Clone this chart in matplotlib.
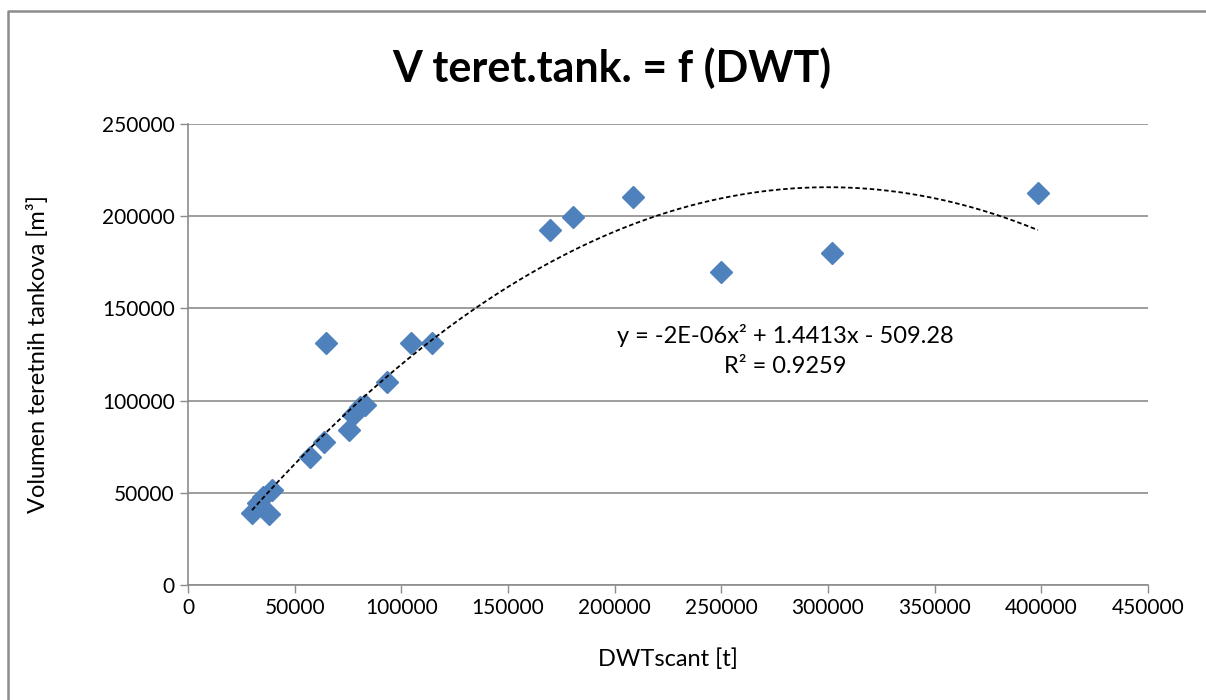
import numpy as np
import matplotlib.pyplot as plt
from matplotlib.lines import Line2D

# DWT [t] and cargo tank volume [m3]
dwt = [30000, 32800, 35300, 38100, 39200, 57200, 63900, 64700, 75600, 77500,
       80600, 83000, 93100, 104500, 114500, 169700, 180500, 208600, 249800,
       301900, 398400]
volume = [39000, 44500, 47900, 38500, 51500, 69600, 77700, 131000, 84000, 92200,
          96700, 97600, 110200, 131000, 131000, 192500, 199600, 210400, 169700,
          180000, 212600]
# polynomial trendline (order 2) coefficients
trend_coef = [-2.402e-06, 1.4413, -509.28]

plt.rcParams['font.family'] = ['Lato', 'DejaVu Sans']

fig = plt.figure(figsize=(12.06, 7), dpi=100)
# chart area border (only left and top edges are inside the picture)
fig.lines.append(Line2D([0.0066, 0.0066, 1.0], [0.0, 0.9836, 0.9836],
                        transform=fig.transFigure, color='#8c8c8c', linewidth=1.8))
ax = fig.add_axes([0.1559, 0.1643, 0.796, 0.6586])

ax.plot(dwt, volume, linestyle='none', marker='D', markersize=11,
        color='#4f81bd', zorder=3)

xs = np.linspace(min(dwt), max(dwt), 300)
ax.plot(xs, np.polyval(trend_coef, xs), color='black', linestyle=(0, (2.5, 1.5)),
        linewidth=1.3, zorder=4)

ax.set_xlim(0, 450000)
ax.set_ylim(0, 250000)
ax.set_xticks(np.arange(0, 450001, 50000))
ax.set_yticks(np.arange(0, 250001, 50000))
ax.tick_params(labelsize=15, colors='#8c8c8c', labelcolor='black', length=6, width=1)
ax.yaxis.grid(True, color='#8c8c8c', linewidth=1.2)
ax.set_axisbelow(True)
for side in ['top', 'right']:
    ax.spines[side].set_visible(False)
for side in ['left', 'bottom']:
    ax.spines[side].set_color('#8c8c8c')
    ax.spines[side].set_linewidth(1.2)

ax.set_xlabel('DWTscant [t]', fontsize=17, labelpad=22)
ax.set_ylabel('Volumen teretnih tankova [m³]', fontsize=17, labelpad=38)
fig.text(0.507, 0.903, 'V teret.tank. = f (DWT)', fontsize=31, fontweight='bold',
         ha='center', va='center')

fig.text(0.651, 0.521, 'y = -2E-06x² + 1.4413x - 509.28', fontsize=17,
         ha='center', va='center')
fig.text(0.651, 0.477, 'R² = 0.9259', fontsize=17, ha='center', va='center')

fig.savefig('out.png', dpi=100)
